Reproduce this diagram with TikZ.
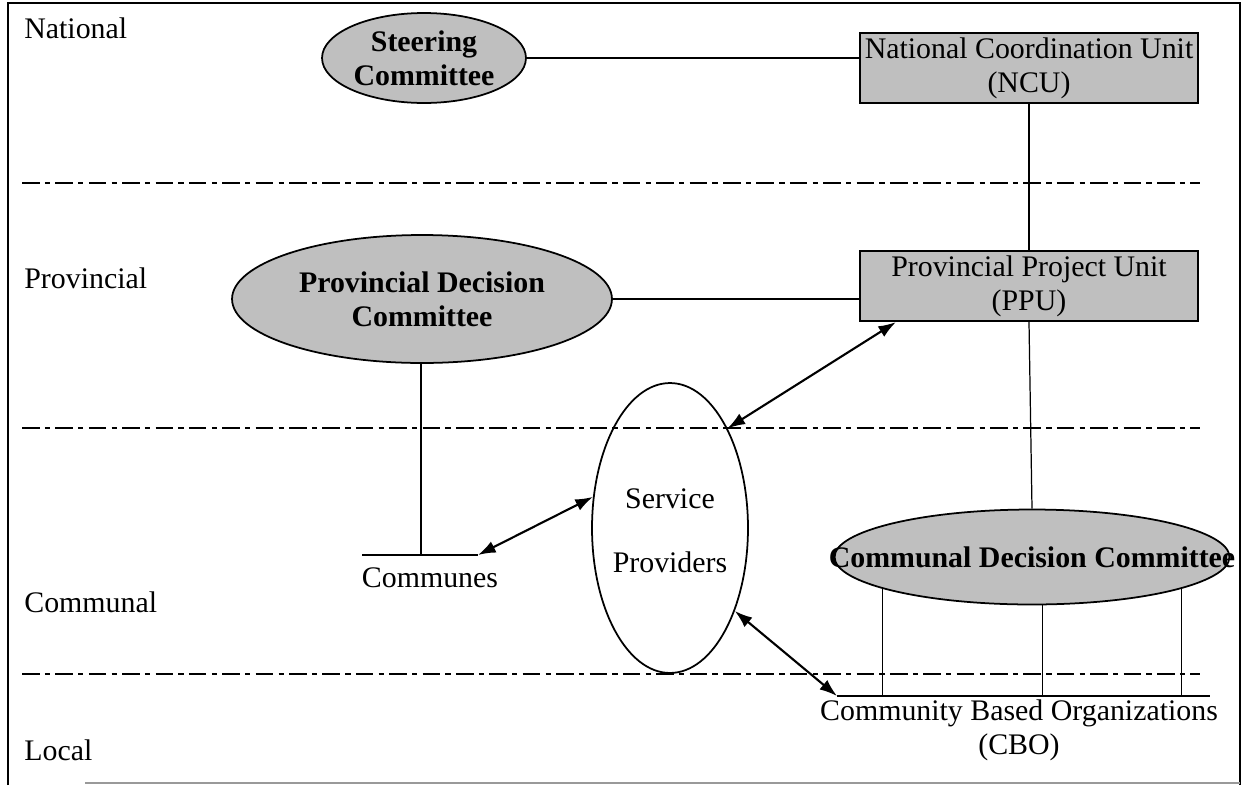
\documentclass[tikz,border=0pt]{standalone}
\usepackage{fontspec}
\setmainfont{Liberation Serif}
\usetikzlibrary{shapes.geometric,arrows.meta}
\tikzset{
  committee/.style={ellipse, draw=black, line width=1pt, fill=black!25, inner sep=0pt},
  unit/.style={rectangle, draw=black, line width=1.3pt, fill=black!25, inner xsep=0pt, inner ysep=2pt, align=center},
  levelline/.style={line width=1pt, dash pattern=on 10pt off 3pt on 3pt off 3pt},
  link/.style={line width=0.7pt},
  baseline/.style={line width=1.4pt},
  twoway/.style={line width=1.2pt, {Latex[length=10pt,width=7pt]}-{Latex[length=10pt,width=7pt]}},
  level/.style={anchor=west, inner sep=0pt}
}

\begin{document}
\begin{tikzpicture}[x=0.02cm, y=-0.02cm, font=\fontsize{17}{19.5}\selectfont]
\useasboundingbox (0,0) rectangle (1244,785);
\draw [black, line width=0.8pt] (8,785) -- (8,3) -- (1240,3) -- (1240,785);
\draw [black!40, line width=0.8pt] (85,783) -- (1240,783);

\foreach \y in {183,428,674}
  \draw [levelline] (22,\y) -- (1200,\y);

\node [level] (national) at (24,28) {National};
\node [level] (provincial) at (24,278) {Provincial};
\node [level] (communal) at (24,602) {Communal};
\node [level] (local) at (24,750) {Local};

\node [committee, minimum width=4.08cm, minimum height=1.8cm,
  label={[align=center, font=\fontsize{17}{19.5}\selectfont\bfseries]center:Steering\\Committee}] (steering) at (424,58) {};
\node [unit, minimum width=6.76cm, minimum height=1.4cm] (ncu) at (1029,68) {National Coordination Unit\\(NCU)};

\node [committee, minimum width=7.6cm, minimum height=2.56cm,
  label={[align=center, font=\fontsize{17}{19.5}\selectfont\bfseries]center:Provincial Decision\\Committee}] (pdc) at (422,299) {};
\node [unit, minimum width=6.76cm, minimum height=1.4cm] (ppu) at (1029,286) {Provincial Project Unit\\(PPU)};

\node [ellipse, draw=black, line width=1pt, inner sep=0pt, minimum width=3.12cm, minimum height=5.8cm,
  label={[align=center, yshift=-0.06cm]center:Service\\[17pt]Providers}] (sp) at (670,528) {};

\node [committee, minimum width=7.9cm, minimum height=1.9cm,
  label={[font=\fontsize{17}{19.5}\selectfont\bfseries]center:Communal Decision Committee}] (cdc) at (1032,557) {};

\coordinate (comL) at (362,555);
\coordinate (comR) at (478,555);
\coordinate (comV) at (421,555);
\node [inner sep=0pt] (communes) at (430,578) {Communes};

\coordinate (cboL) at (837,696);
\coordinate (cboR) at (1210,696);
\node [inner sep=0pt, align=center] (cbo) at (1019,730) {Community Based Organizations\\(CBO)};

\draw [link] (steering.east) -- (steering.east -| ncu.west);
\draw [link] (ncu.south) -- (ppu.north);
\draw [link] (pdc.east) -- (pdc.east -| ppu.west);
\draw [link] (ppu.south) -- (cdc.north);
\draw [link] (pdc.south -| comV) -- (comV);
\draw [baseline] (comL) -- (comR);
\draw [baseline] (cboL) -- (cboR);
\foreach \a in {192,-78,-12}
  \draw [link] (cdc.\a) -- (cdc.\a |- cboL);

\draw [twoway] ([xshift=0.74cm]ppu.south west) -- (sp.60);
\draw [twoway] (comR) -- (sp.158);
\draw [twoway] (sp.-52) -- (cboL);
\end{tikzpicture}
\end{document}
